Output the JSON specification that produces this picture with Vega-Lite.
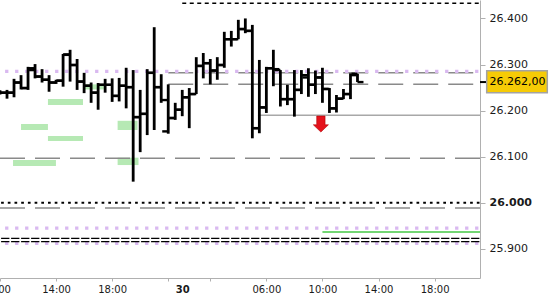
{
  "$schema": "https://vega.github.io/schema/vega-lite/v6.json",
  "width": 480,
  "height": 278,
  "autosize": {"type": "none"},
  "padding": {"left": 0, "top": 0, "right": 70, "bottom": 22},
  "background": "white",
  "config": {
    "view": {"stroke": null},
    "locale": {"number": {"decimal": ",", "thousands": ".", "grouping": [3], "currency": ["", " €"]}}
  },
  "datasets": {
    "zones": [
      {"t0": 13.42, "t1": 15.92, "p0": 26212, "p1": 26225},
      {"t0": 11.5, "t1": 13.42, "p0": 26158, "p1": 26171},
      {"t0": 13.42, "t1": 15.92, "p0": 26134, "p1": 26145},
      {"t0": 10.93, "t1": 13.99, "p0": 26080, "p1": 26093},
      {"t0": 15.99, "t1": 17.41, "p0": 26246, "p1": 26257},
      {"t0": 18.39, "t1": 19.81, "p0": 26158, "p1": 26178},
      {"t0": 18.39, "t1": 19.88, "p0": 26082, "p1": 26098}
    ],
    "levels": [
      {"kind": "blackDash", "price": 26433, "t0": 23, "t1": 44.24},
      {"kind": "purpleDot", "price": 26285, "t0": 10, "t1": 44.24},
      {"kind": "grayDash", "price": 26282, "t0": 22, "t1": 44.24},
      {"kind": "grayDash", "price": 26257, "t0": 22, "t1": 44.24},
      {"kind": "graySolid", "price": 26190, "t0": 28.4, "t1": 44.24},
      {"kind": "grayDash", "price": 26097, "t0": 10, "t1": 44.24},
      {"kind": "blackDot", "price": 26000, "t0": 10, "t1": 44.24},
      {"kind": "grayDash", "price": 25989, "t0": 10, "t1": 44.24},
      {"kind": "purpleDot", "price": 25945, "t0": 10, "t1": 44.24},
      {"kind": "green", "price": 25937, "t0": 33, "t1": 44.24},
      {"kind": "blackShort", "price": 25923, "t0": 10, "t1": 44.24},
      {"kind": "blackShort", "price": 25916, "t0": 10, "t1": 44.24},
      {"kind": "purpleDot", "price": 25912, "t0": 10, "t1": 44.24}
    ],
    "bars": [
      {"t": 10, "o": 26240, "h": 26244, "l": 26235, "c": 26239},
      {"t": 10.5, "o": 26239, "h": 26245, "l": 26226, "c": 26239},
      {"t": 11, "o": 26239, "h": 26269, "l": 26229, "c": 26261},
      {"t": 11.5, "o": 26261, "h": 26277, "l": 26246, "c": 26249},
      {"t": 12, "o": 26249, "h": 26295, "l": 26245, "c": 26292},
      {"t": 12.5, "o": 26288, "h": 26301, "l": 26270, "c": 26274},
      {"t": 13, "o": 26274, "h": 26290, "l": 26261, "c": 26267},
      {"t": 13.5, "o": 26267, "h": 26277, "l": 26241, "c": 26261},
      {"t": 14, "o": 26261, "h": 26267, "l": 26258, "c": 26265},
      {"t": 14.5, "o": 26265, "h": 26323, "l": 26252, "c": 26322},
      {"t": 15, "o": 26321, "h": 26332, "l": 26263, "c": 26299},
      {"t": 15.5, "o": 26299, "h": 26312, "l": 26245, "c": 26263},
      {"t": 16, "o": 26263, "h": 26282, "l": 26238, "c": 26254},
      {"t": 16.5, "o": 26254, "h": 26261, "l": 26217, "c": 26239},
      {"t": 17, "o": 26239, "h": 26260, "l": 26202, "c": 26256},
      {"t": 17.5, "o": 26256, "h": 26269, "l": 26239, "c": 26256},
      {"t": 18, "o": 26256, "h": 26270, "l": 26219, "c": 26232},
      {"t": 18.5, "o": 26232, "h": 26271, "l": 26220, "c": 26254},
      {"t": 19, "o": 26254, "h": 26293, "l": 26205, "c": 26251},
      {"t": 19.5, "o": 26251, "h": 26288, "l": 26046, "c": 26186},
      {"t": 20, "o": 26186, "h": 26245, "l": 26110, "c": 26193},
      {"t": 20.5, "o": 26193, "h": 26290, "l": 26147, "c": 26282},
      {"t": 21, "o": 26282, "h": 26381, "l": 26158, "c": 26251},
      {"t": 21.5, "o": 26251, "h": 26279, "l": 26217, "c": 26223},
      {"t": 22, "o": 26155, "h": 26257, "l": 26150, "c": 26184},
      {"t": 22.5, "o": 26184, "h": 26217, "l": 26180, "c": 26202},
      {"t": 23, "o": 26202, "h": 26245, "l": 26188, "c": 26229},
      {"t": 23.5, "o": 26229, "h": 26249, "l": 26162, "c": 26236},
      {"t": 24, "o": 26236, "h": 26316, "l": 26236, "c": 26297},
      {"t": 24.5, "o": 26297, "h": 26325, "l": 26270, "c": 26303},
      {"t": 25, "o": 26303, "h": 26312, "l": 26257, "c": 26287},
      {"t": 25.5, "o": 26287, "h": 26316, "l": 26267, "c": 26299},
      {"t": 26, "o": 26299, "h": 26371, "l": 26293, "c": 26355},
      {"t": 26.5, "o": 26355, "h": 26373, "l": 26339, "c": 26355},
      {"t": 27, "o": 26355, "h": 26397, "l": 26355, "c": 26377},
      {"t": 27.5, "o": 26377, "h": 26400, "l": 26368, "c": 26373},
      {"t": 28, "o": 26373, "h": 26386, "l": 26140, "c": 26162},
      {"t": 28.5, "o": 26162, "h": 26310, "l": 26151, "c": 26207},
      {"t": 29, "o": 26207, "h": 26295, "l": 26195, "c": 26292},
      {"t": 29.5, "o": 26292, "h": 26332, "l": 26253, "c": 26290},
      {"t": 30, "o": 26288, "h": 26288, "l": 26209, "c": 26225},
      {"t": 30.5, "o": 26225, "h": 26256, "l": 26212, "c": 26225},
      {"t": 31, "o": 26225, "h": 26288, "l": 26187, "c": 26245},
      {"t": 31.5, "o": 26245, "h": 26288, "l": 26236, "c": 26277},
      {"t": 32, "o": 26272, "h": 26292, "l": 26230, "c": 26256},
      {"t": 32.5, "o": 26256, "h": 26287, "l": 26236, "c": 26272},
      {"t": 33, "o": 26272, "h": 26293, "l": 26217, "c": 26247},
      {"t": 33.5, "o": 26247, "h": 26249, "l": 26195, "c": 26205},
      {"t": 34, "o": 26205, "h": 26234, "l": 26196, "c": 26226},
      {"t": 34.5, "o": 26226, "h": 26247, "l": 26225, "c": 26236},
      {"t": 35, "o": 26236, "h": 26281, "l": 26225, "c": 26277},
      {"t": 35.5, "o": 26280, "h": 26280, "l": 26262, "c": 26262}
    ],
    "signals": [{"t": 32.89, "price": 26171}],
    "last": [{"t": 44.24, "price": 26262}]
  },
  "layer": [
    {
      "data": {"name": "zones"},
      "mark": {"type": "rect", "color": "#b6e9b4"},
      "encoding": {
        "x": {
          "field": "t0", "type": "quantitative", "title": null,
          "scale": {"domain": [10, 44.24], "nice": false, "zero": false},
          "axis": {
            "orient": "bottom", "title": null, "grid": false,
            "values": [10, 14, 18, 22, 23, 25, 29, 33, 37, 41],
            "labelExpr": "datum.value==10?'10:00':datum.value==14?'14:00':datum.value==18?'18:00':datum.value==23?'30':datum.value==29?'06:00':datum.value==33?'10:00':datum.value==37?'14:00':datum.value==41?'18:00':''",
            "domainColor": "#b0b0b0", "tickColor": "#b0b0b0", "tickSize": 3,
            "labelFont": "DejaVu Sans", "labelFontSize": 10, "labelColor": "#1a1a1a",
            "labelPadding": 3, "labelFlush": false, "labelOverlap": false, "labelBound": false,
            "labelOffset": {"condition": {"test": "datum.value == 10", "value": -4}, "value": 0},
            "tickOpacity": {"condition": {"test": "datum.value == 23", "value": 0}, "value": 1},
            "labelFontWeight": {"condition": {"test": "datum.value == 23", "value": "bold"}, "value": "normal"}
          }
        },
        "x2": {"field": "t1"},
        "y": {
          "field": "p0", "type": "quantitative", "title": null,
          "scale": {"domain": [25837, 26440], "nice": false, "zero": false},
          "axis": {
            "orient": "right", "title": null, "grid": false,
            "values": [25900, 26000, 26100, 26200, 26300, 26400],
            "format": ",.0f",
            "domainColor": "#b0b0b0", "tickColor": "#b0b0b0", "tickSize": 5,
            "labelFont": "DejaVu Sans", "labelFontSize": 11, "labelColor": "#1a1a1a",
            "labelPadding": 4,
            "labelFontWeight": {"condition": {"test": "datum.value == 26000", "value": "bold"}, "value": "normal"}
          }
        },
        "y2": {"field": "p1"}
      }
    },
    {
      "data": {"name": "levels"},
      "transform": [{"filter": "datum.kind == 'grayDash'"}],
      "mark": {"type": "rule", "color": "#8a8a8a", "strokeWidth": 1.5, "strokeDash": [25, 10]},
      "encoding": {
        "x": {"field": "t0", "type": "quantitative", "title": null},
        "x2": {"field": "t1"},
        "y": {"field": "price", "type": "quantitative", "title": null}
      }
    },
    {
      "data": {"name": "levels"},
      "transform": [{"filter": "datum.kind == 'graySolid'"}],
      "mark": {"type": "rule", "color": "#a8a8a8", "strokeWidth": 1.3},
      "encoding": {
        "x": {"field": "t0", "type": "quantitative", "title": null},
        "x2": {"field": "t1"},
        "y": {"field": "price", "type": "quantitative", "title": null}
      }
    },
    {
      "data": {"name": "levels"},
      "transform": [{"filter": "datum.kind == 'purpleDot'"}],
      "mark": {"type": "rule", "color": "#d9b9f0", "strokeWidth": 3.3, "strokeDash": [3.3, 6.7], "strokeDashOffset": 4.9},
      "encoding": {
        "x": {"field": "t0", "type": "quantitative", "title": null},
        "x2": {"field": "t1"},
        "y": {"field": "price", "type": "quantitative", "title": null}
      }
    },
    {
      "data": {"name": "levels"},
      "transform": [{"filter": "datum.kind == 'blackDash'"}],
      "mark": {"type": "rule", "color": "#000000", "strokeWidth": 1.3, "strokeDash": [4, 3.5]},
      "encoding": {
        "x": {"field": "t0", "type": "quantitative", "title": null},
        "x2": {"field": "t1"},
        "y": {"field": "price", "type": "quantitative", "title": null}
      }
    },
    {
      "data": {"name": "levels"},
      "transform": [{"filter": "datum.kind == 'blackDot'"}],
      "mark": {"type": "rule", "color": "#000000", "strokeWidth": 2, "strokeDash": [2.7, 4], "strokeDashOffset": 5.6},
      "encoding": {
        "x": {"field": "t0", "type": "quantitative", "title": null},
        "x2": {"field": "t1"},
        "y": {"field": "price", "type": "quantitative", "title": null}
      }
    },
    {
      "data": {"name": "levels"},
      "transform": [{"filter": "datum.kind == 'blackShort'"}],
      "mark": {"type": "rule", "color": "#000000", "strokeWidth": 1.2, "strokeDash": [8.3, 1.7], "strokeDashOffset": 8.9},
      "encoding": {
        "x": {"field": "t0", "type": "quantitative", "title": null},
        "x2": {"field": "t1"},
        "y": {"field": "price", "type": "quantitative", "title": null}
      }
    },
    {
      "data": {"name": "levels"},
      "transform": [{"filter": "datum.kind == 'green'"}],
      "mark": {"type": "rule", "color": "#45c845", "strokeWidth": 1.5},
      "encoding": {
        "x": {"field": "t0", "type": "quantitative", "title": null},
        "x2": {"field": "t1"},
        "y": {"field": "price", "type": "quantitative", "title": null}
      }
    },
    {
      "data": {"name": "bars"},
      "mark": {"type": "rule", "color": "#000000", "strokeWidth": 2.8},
      "encoding": {
        "x": {"field": "t", "type": "quantitative", "title": null},
        "y": {"field": "l", "type": "quantitative", "title": null},
        "y2": {"field": "h"}
      }
    },
    {
      "data": {"name": "bars"},
      "mark": {"type": "point", "shape": "M-1,-0.2L0,-0.2L0,0.2L-1,0.2Z", "filled": true, "color": "#000000", "opacity": 1, "size": 144, "strokeWidth": 0},
      "encoding": {
        "x": {"field": "t", "type": "quantitative", "title": null},
        "y": {"field": "o", "type": "quantitative", "title": null}
      }
    },
    {
      "data": {"name": "bars"},
      "mark": {"type": "point", "shape": "M0,-0.2L1,-0.2L1,0.2L0,0.2Z", "filled": true, "color": "#000000", "opacity": 1, "size": 144, "strokeWidth": 0},
      "encoding": {
        "x": {"field": "t", "type": "quantitative", "title": null},
        "y": {"field": "c", "type": "quantitative", "title": null}
      }
    },
    {
      "data": {"name": "signals"},
      "mark": {"type": "point", "shape": "M-0.52,-1L0.52,-1L0.52,0.1L0.94,0.1L0,1L-0.94,0.1L-0.52,0.1Z", "filled": true, "fill": "#e5121c", "stroke": "#b00000", "strokeWidth": 0.6, "opacity": 1, "size": 256},
      "encoding": {
        "x": {"field": "t", "type": "quantitative", "title": null},
        "y": {"field": "price", "type": "quantitative", "title": null}
      }
    },
    {
      "data": {"name": "last"},
      "mark": {"type": "point", "shape": "M0,-0.1L0.6,-0.1L0.6,0.1L0,0.1Z", "filled": true, "color": "#000000", "opacity": 1, "size": 400, "strokeWidth": 0},
      "encoding": {
        "x": {"field": "t", "type": "quantitative", "title": null},
        "y": {"field": "price", "type": "quantitative", "title": null}
      }
    },
    {
      "data": {"name": "last"},
      "mark": {"type": "point", "shape": "M0.67,-1.14L6.73,-1.14L6.73,1.06L0.67,1.06Z", "filled": true, "fill": "#f6cb06", "stroke": "#a3a3a3", "strokeWidth": 1.5, "opacity": 1, "size": 400},
      "encoding": {
        "x": {"field": "t", "type": "quantitative", "title": null},
        "y": {"field": "price", "type": "quantitative", "title": null}
      }
    },
    {
      "data": {"name": "last"},
      "mark": {"type": "text", "align": "left", "baseline": "middle", "dx": 9.5, "font": "DejaVu Sans", "fontSize": 11, "color": "#000000"},
      "encoding": {
        "x": {"field": "t", "type": "quantitative", "title": null},
        "y": {"field": "price", "type": "quantitative", "title": null},
        "text": {"field": "price", "type": "quantitative", "format": ",.2f"}
      }
    }
  ]
}
